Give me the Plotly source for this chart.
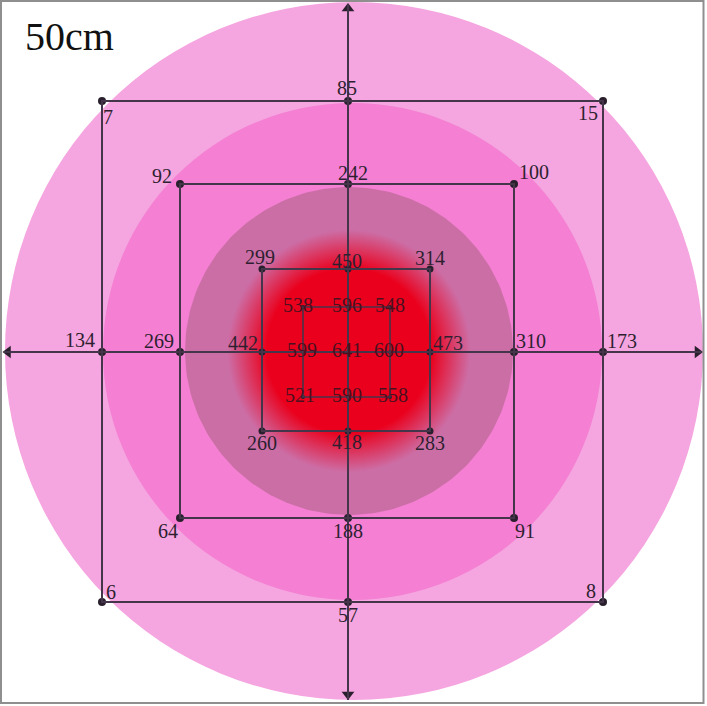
import numpy as np
import plotly.graph_objects as go

# ---------------- data ----------------
# order of positions in each ring: TL, T, TR, L, R, BL, B, BR
position_names = ["TL", "T", "TR", "L", "R", "BL", "B", "BR"]
outer_vals = [7, 85, 15, 134, 173, 6, 57, 8]
second_vals = [92, 242, 100, 269, 310, 64, 188, 91]
third_vals = [299, 450, 314, 442, 473, 260, 418, 283]
inner_vals = [538, 596, 548, 599, 600, 521, 590, 558]
center_val = 641
title_text = "50cm"

# ---------------- layout (pixel-like coordinates, y downwards) ----------------
W, H = 707, 706
CX, CY = 348, 352
pos_grid = [(-1, -1), (0, -1), (1, -1), (-1, 0), (1, 0), (-1, 1), (0, 1), (1, 1)]

# ring extents: left, right, top, bottom
ring_extent = {
    "outer": (102, 603, 101, 602),
    "second": (180, 514, 184, 518),
    "third": (262, 430, 269, 431),
    "inner": (303, 390, 307, 397),
}
# label offsets (dx, dy) from the point for each position
label_offsets = {
    "outer": [(6, 16), (-1, -13), (-15, 12), (-22, -12), (19, -11), (9, -10), (0, 13), (-12, -11)],
    "second": [(-18, -8), (5, -11), (20, -12), (-21, -11), (17, -11), (-12, 13), (0, 13), (11, 13)],
    "third": [(-2, -12), (-1, -8), (0, -11), (-19, -9), (18, -9), (0, 12), (-1, 11), (0, 12)],
    "inner": [(-5, -2), (-1, -2), (0, -2), (-1, -2), (-1, -2), (-3, -2), (-1, -2), (3, -2)],
}
dot_size = {"outer": 8, "second": 8, "third": 7, "inner": 4}
ring_values = {"outer": outer_vals, "second": second_vals, "third": third_vals, "inner": inner_vals}

LINE = "#45354a"
DOT = "#2a1f2c"
TXT = "#2e1f30"
INNER_TXT = "#4a1020"
FONT = "Liberation Serif"


def ring_points(name):
    l, r, t, b = ring_extent[name]
    xs, ys = [], []
    for c, rw in pos_grid:
        xs.append({-1: l, 0: CX, 1: r}[c])
        ys.append({-1: t, 0: CY, 1: b}[rw])
    return xs, ys


fig = go.Figure()

shapes = []
# outer and second circles
shapes.append(dict(type="circle", layer="below", x0=5, x1=703, y0=2, y1=700,
                   fillcolor="#F5A5DF", line=dict(width=0)))
shapes.append(dict(type="circle", layer="below", x0=103, x1=602, y0=103, y1=600,
                   fillcolor="#F47FD3", line=dict(width=0)))

# third circle with the red hot-spot as radial gradient
t = np.linspace(0, 2 * np.pi, 241)
r3 = 164
fig.add_trace(go.Scatter(
    x=349 + r3 * np.cos(t), y=351 + r3 * np.sin(t), mode="lines", fill="toself",
    line=dict(width=0, color="rgba(0,0,0,0)"),
    fillgradient=dict(type="radial", colorscale=[
        [0, "#EA001C"], [0.50, "#EA001C"], [0.74, "#CC6EA6"], [1, "#CC6EA6"]]),
    hoverinfo="skip", showlegend=False))

# squares
for name in ["outer", "second", "third", "inner"]:
    l, r, t_, b = ring_extent[name]
    shapes.append(dict(type="rect", x0=l, x1=r, y0=t_, y1=b,
                       line=dict(color=LINE, width=2 if name != "inner" else 1.6)))

# axes lines
shapes.append(dict(type="line", x0=4, x1=702, y0=CY, y1=CY, line=dict(color=LINE, width=2)))
shapes.append(dict(type="line", x0=CX, x1=CX, y0=4, y1=700, line=dict(color=LINE, width=2)))

# frame
shapes.append(dict(type="rect", x0=1, x1=703.5, y0=1, y1=703, line=dict(color="#8f8f8f", width=2)))

# arrow heads
fig.add_trace(go.Scatter(
    x=[8, 697.5, CX, CX], y=[CY, CY, 8.5, 694.5], mode="markers",
    marker=dict(symbol=["triangle-left", "triangle-right", "triangle-up", "triangle-down"],
                size=11, color="#2a1f2c", line=dict(width=0)),
    hoverinfo="skip", showlegend=False))

annotations = []
for name in ["outer", "second", "third", "inner"]:
    xs, ys = ring_points(name)
    fig.add_trace(go.Scatter(x=xs, y=ys, mode="markers",
                             marker=dict(size=dot_size[name], color=DOT, line=dict(width=0)),
                             hoverinfo="skip", showlegend=False))
    col = INNER_TXT if name == "inner" else TXT
    for (x, y), v, (dx, dy) in zip(zip(xs, ys), ring_values[name], label_offsets[name]):
        annotations.append(dict(x=x + dx, y=y + dy, text=str(v), showarrow=False,
                                xanchor="center", yanchor="middle",
                                font=dict(family=FONT, size=20, color=col)))

# centre
fig.add_trace(go.Scatter(x=[CX], y=[CY], mode="markers",
                         marker=dict(size=4, color=DOT), hoverinfo="skip", showlegend=False))
annotations.append(dict(x=CX - 1, y=CY - 2, text=str(center_val), showarrow=False,
                        xanchor="center", yanchor="middle",
                        font=dict(family=FONT, size=20, color=INNER_TXT)))

annotations.append(dict(x=69, y=36, text=title_text, showarrow=False,
                        xanchor="center", yanchor="middle",
                        font=dict(family=FONT, size=40, color="#111111")))

fig.update_layout(
    width=W, height=H, autosize=False,
    margin=dict(l=0, r=0, t=0, b=0, pad=0),
    paper_bgcolor="white", plot_bgcolor="white",
    xaxis=dict(range=[0, W], visible=False, fixedrange=True),
    yaxis=dict(range=[H, 0], visible=False, fixedrange=True),
    shapes=shapes, annotations=annotations, showlegend=False,
)

fig.write_html("out.html", config={"displayModeBar": False},
               post_script="document.body.style.margin='0';document.body.style.overflow='hidden';")
